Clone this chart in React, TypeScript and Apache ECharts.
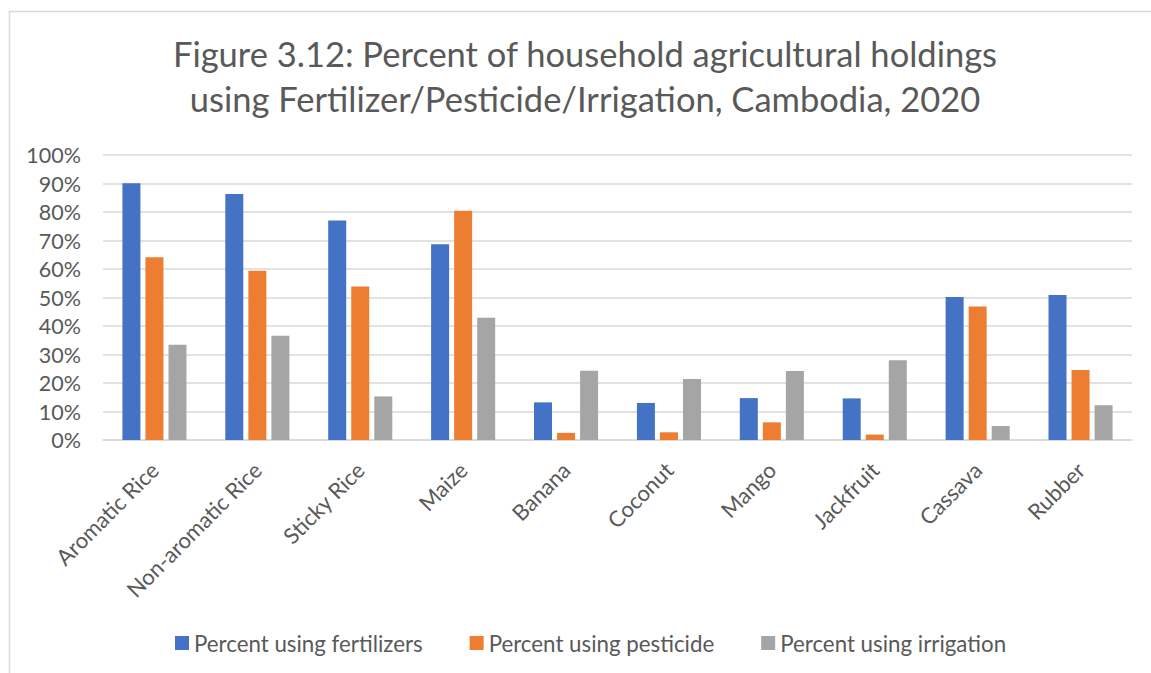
import React, { useEffect, useRef } from "react";
import * as echarts from "echarts";

const titleLines = [
  "Figure 3.12: Percent of household agricultural holdings",
  "using Fertilizer/Pesticide/Irrigation, Cambodia, 2020",
];
const categories = [
  "Aromatic Rice",
  "Non-aromatic Rice",
  "Sticky Rice",
  "Maize",
  "Banana",
  "Coconut",
  "Mango",
  "Jackfruit",
  "Cassava",
  "Rubber",
];
const seriesNames = [
  "Percent using fertilizers",
  "Percent using pesticide",
  "Percent using irrigation",
];
const fertilizers = [90.1, 86.3, 77.0, 68.7, 13.2, 13.0, 14.7, 14.6, 50.2, 50.9];
const pesticide = [64.1, 59.4, 53.9, 80.4, 2.5, 2.7, 6.2, 1.9, 46.8, 24.6];
const irrigation = [33.4, 36.6, 15.3, 42.9, 24.3, 21.4, 24.2, 28.0, 4.9, 12.2];
const colors = ["#4472C4", "#ED7D31", "#A5A5A5"];

const FONT = "Lato, 'Open Sans', sans-serif";

export default function App() {
  const ref = useRef<HTMLDivElement>(null);
  useEffect(() => {
    if (!ref.current) return;
    const chart = echarts.init(ref.current, null, { renderer: "svg" });
    const values = [fertilizers, pesticide, irrigation];
    chart.setOption({
      animation: false,
      backgroundColor: "#ffffff",
      textStyle: { fontFamily: FONT },
      title: {
        text: titleLines.join("\n"),
        left: 585,
        top: 31,
        textAlign: "center",
        padding: 0,
        textStyle: {
          fontFamily: FONT,
          fontSize: 34.5,
          lineHeight: 45,
          fontWeight: "normal",
          color: "#595959",
        },
      },
      graphic: [
        {
          type: "rect",
          shape: { x: 9.5, y: 11.5, width: 1300, height: 800 },
          style: { fill: "none", stroke: "#d9d9d9", lineWidth: 1.5 },
          silent: true,
        },
      ],
      legend: {
        left: 175,
        top: 632,
        padding: 0,
        itemWidth: 14,
        itemHeight: 14,
        itemGap: 47,
        icon: "rect",
        textStyle: { fontFamily: FONT, fontSize: 22.3, color: "#595959" },
        data: seriesNames,
      },
      grid: { left: 103, right: 19, top: 155, bottom: 233, containLabel: false },
      xAxis: {
        type: "category",
        data: categories,
        axisLine: { show: true, lineStyle: { color: "#d9d9d9", width: 1.5 } },
        axisTick: { show: false },
        axisLabel: {
          interval: 0,
          rotate: 45,
          margin: 26,
          fontFamily: FONT,
          fontSize: 22,
          color: "#595959",
        },
      },
      yAxis: {
        type: "value",
        min: 0,
        max: 100,
        interval: 10,
        axisLine: { show: false },
        axisTick: { show: false },
        splitLine: { lineStyle: { color: "#d9d9d9", width: 1.5 } },
        axisLabel: {
          formatter: "{value}%",
          margin: 22,
          fontFamily: FONT,
          fontSize: 21.5,
          color: "#595959",
        },
      },
      series: seriesNames.map((name, i) => ({
        name,
        type: "bar",
        data: values[i],
        barWidth: 18,
        barGap: "28%",
        itemStyle: { color: colors[i] },
      })),
    });
    return () => chart.dispose();
  }, []);
  return (
    <div
      ref={ref}
      style={{ position: "absolute", left: 0, top: 0, width: 1151, height: 673 }}
    />
  );
}
